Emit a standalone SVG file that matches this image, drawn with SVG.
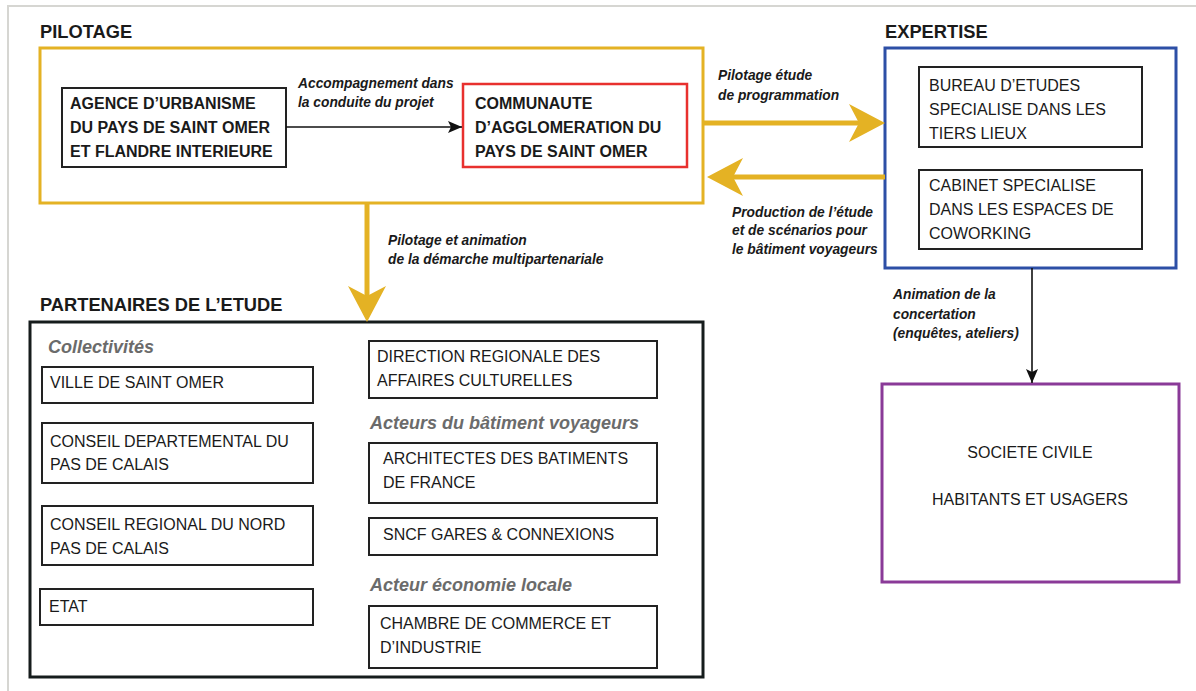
<svg xmlns="http://www.w3.org/2000/svg" width="1196" height="691" viewBox="0 0 1196 691">
<style>
text{font-family:"Liberation Sans",Arial,sans-serif;fill:#1a1a1a}
.title{font-size:18.3px;font-weight:bold}
.bold{font-size:16px;font-weight:bold}
.reg{font-size:16px}
.lab{font-size:13.8px;font-weight:bold;font-style:italic}
.cat{font-size:18px;font-weight:bold;font-style:italic;fill:#6b6b6b}
.box{fill:#fff;stroke:#222;stroke-width:2}
.yel{fill:none;stroke:#E4B224;stroke-width:5}
.blk{fill:none;stroke:#111;stroke-width:1.6}
</style>
<defs>
<marker id="ya" markerUnits="userSpaceOnUse" viewBox="0 0 36 40" refX="10" refY="20" markerWidth="36" markerHeight="40" orient="auto">
<path d="M0,1 L36,20 L0,39 L10,20 Z" fill="#E4B224"/>
</marker>
<marker id="ba" markerUnits="userSpaceOnUse" viewBox="0 0 14 12" refX="14" refY="6" markerWidth="14" markerHeight="12" orient="auto">
<path d="M0,0 L14,6 L0,12 L3,6 Z" fill="#111"/>
</marker>
</defs>
<rect width="1196" height="691" fill="#fff"/>
<path d="M8,691 V6 H1196" fill="none" stroke="#d6d6d2" stroke-width="2"/>

<g id="pilotage">
<text class="title" x="40" y="38">PILOTAGE</text>
<rect x="40" y="48" width="663" height="155" fill="none" stroke="#E4B224" stroke-width="3"/>
</g>
<g id="agence">
<rect class="box" x="62" y="88" width="224" height="79"/>
<text class="bold" x="70" y="109">AGENCE D’URBANISME</text>
<text class="bold" x="70" y="133">DU PAYS DE SAINT OMER</text>
<text class="bold" x="70" y="157">ET FLANDRE INTERIEURE</text>
</g>
<g id="communaute">
<rect x="463" y="84" width="224" height="83" fill="#fff" stroke="#E8302E" stroke-width="2.5"/>
<text class="bold" x="475" y="109">COMMUNAUTE</text>
<text class="bold" x="475" y="133">D’AGGLOMERATION DU</text>
<text class="bold" x="475" y="157">PAYS DE SAINT OMER</text>
</g>

<g id="expertise">
<text class="title" x="885" y="38">EXPERTISE</text>
<rect x="885" y="48" width="291" height="220" fill="#fff" stroke="#2D4FA6" stroke-width="3"/>
</g>
<g id="bureau">
<rect class="box" x="919" y="67" width="223" height="80"/>
<text class="reg" x="929" y="91">BUREAU D’ETUDES</text>
<text class="reg" x="929" y="115">SPECIALISE DANS LES</text>
<text class="reg" x="929" y="139">TIERS LIEUX</text>
</g>
<g id="cabinet">
<rect class="box" x="919" y="170" width="223" height="79"/>
<text class="reg" x="929" y="191">CABINET SPECIALISE</text>
<text class="reg" x="929" y="215">DANS LES ESPACES DE</text>
<text class="reg" x="929" y="239">COWORKING</text>
</g>

<g id="societe">
<rect x="882" y="384" width="297" height="198" fill="#fff" stroke="#8A3A98" stroke-width="3"/>
<text class="reg" x="1030" y="458" text-anchor="middle">SOCIETE CIVILE</text>
<text class="reg" x="1030" y="505" text-anchor="middle">HABITANTS ET USAGERS</text>
</g>

<g id="partenaires">
<text class="title" x="40" y="311">PARTENAIRES DE L’ETUDE</text>
<rect x="30" y="322" width="673" height="355" fill="#fff" stroke="#161c1c" stroke-width="3"/>
<text class="cat" x="48" y="353">Collectivités</text>
<text class="cat" x="370" y="429">Acteurs du bâtiment voyageurs</text>
<text class="cat" x="370" y="591">Acteur économie locale</text>
</g>
<g id="ville">
<rect class="box" x="42" y="367" width="271" height="36"/>
<text class="reg" x="50" y="388">VILLE DE SAINT OMER</text>
</g>
<g id="conseil-dep">
<rect class="box" x="42" y="423" width="271" height="60"/>
<text class="reg" x="50" y="447">CONSEIL DEPARTEMENTAL DU</text>
<text class="reg" x="50" y="470">PAS DE CALAIS</text>
</g>
<g id="conseil-reg">
<rect class="box" x="42" y="506" width="271" height="59"/>
<text class="reg" x="50" y="530">CONSEIL REGIONAL DU NORD</text>
<text class="reg" x="50" y="554">PAS DE CALAIS</text>
</g>
<g id="etat">
<rect class="box" x="40" y="589" width="273" height="36"/>
<text class="reg" x="49" y="612">ETAT</text>
</g>
<g id="drac">
<rect class="box" x="369" y="341" width="288" height="57"/>
<text class="reg" x="377" y="362">DIRECTION REGIONALE DES</text>
<text class="reg" x="377" y="386">AFFAIRES CULTURELLES</text>
</g>
<g id="abf">
<rect class="box" x="369" y="443" width="288" height="60"/>
<text class="reg" x="383" y="464">ARCHITECTES DES BATIMENTS</text>
<text class="reg" x="383" y="488">DE FRANCE</text>
</g>
<g id="sncf">
<rect class="box" x="369" y="518" width="288" height="37"/>
<text class="reg" x="383" y="540">SNCF GARES &amp; CONNEXIONS</text>
</g>
<g id="cci">
<rect class="box" x="369" y="606" width="288" height="62"/>
<text class="reg" x="380" y="629">CHAMBRE DE COMMERCE ET</text>
<text class="reg" x="380" y="653">D’INDUSTRIE</text>
</g>

<g id="connectors">
<line class="blk" x1="286" y1="127" x2="462" y2="127" marker-end="url(#ba)"/>
<text class="lab" x="298" y="88">Accompagnement dans</text>
<text class="lab" x="298" y="107">la conduite du projet</text>

<line class="yel" x1="703" y1="123" x2="859" y2="123" marker-end="url(#ya)"/>
<text class="lab" x="718" y="80">Pilotage étude</text>
<text class="lab" x="718" y="100">de programmation</text>

<line class="yel" x1="885" y1="177" x2="733" y2="177" marker-end="url(#ya)"/>
<text class="lab" x="732" y="217">Production de l’étude</text>
<text class="lab" x="732" y="235">et de scénarios pour</text>
<text class="lab" x="732" y="254">le bâtiment voyageurs</text>

<line class="yel" x1="367" y1="203" x2="367" y2="296" marker-end="url(#ya)"/>
<text class="lab" x="388" y="245">Pilotage et animation</text>
<text class="lab" x="388" y="264">de la démarche multipartenariale</text>

<line class="blk" x1="1032" y1="268" x2="1032" y2="383" marker-end="url(#ba)"/>
<text class="lab" x="893" y="299">Animation de la</text>
<text class="lab" x="893" y="319">concertation</text>
<text class="lab" x="893" y="338">(enquêtes, ateliers)</text>
</g>
</svg>
